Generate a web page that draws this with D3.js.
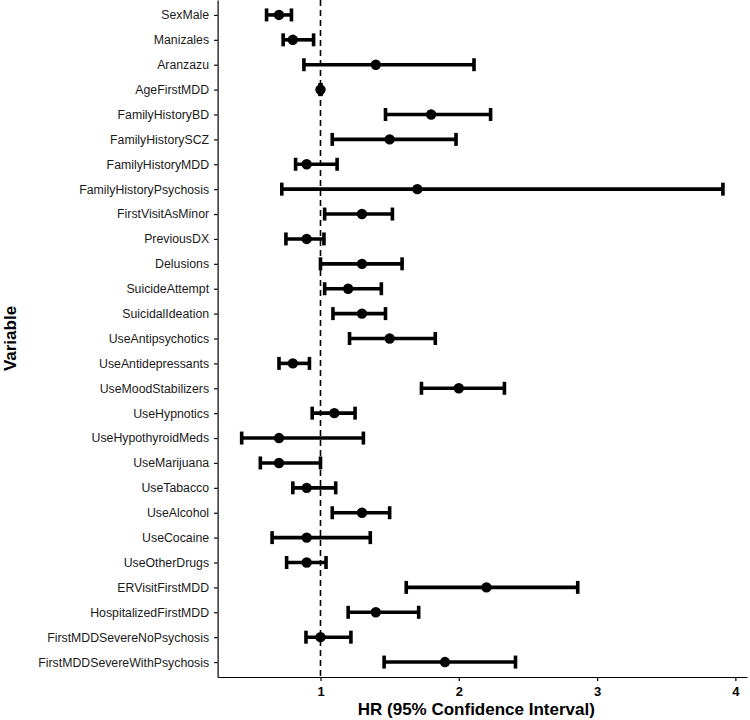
<!DOCTYPE html>
<html>
<head>
<meta charset="utf-8">
<script src="https://cdn.jsdelivr.net/npm/d3@7"></script>
<style>
  html, body { margin: 0; padding: 0; background: #fff; }
  svg { display: block; }
</style>
</head>
<body>
<svg id="chart" width="750" height="720"></svg>
<script>
const variables = ["SexMale","Manizales","Aranzazu","AgeFirstMDD","FamilyHistoryBD","FamilyHistorySCZ","FamilyHistoryMDD","FamilyHistoryPsychosis","FirstVisitAsMinor","PreviousDX","Delusions","SuicideAttempt","SuicidalIdeation","UseAntipsychotics","UseAntidepressants","UseMoodStabilizers","UseHypnotics","UseHypothyroidMeds","UseMarijuana","UseTabacco","UseAlcohol","UseCocaine","UseOtherDrugs","ERVisitFirstMDD","HospitalizedFirstMDD","FirstMDDSevereNoPsychosis","FirstMDDSevereWithPsychosis"];
const hr    = [0.70,0.80,1.40,1.00,1.80,1.50,0.90,1.70,1.30,0.90,1.30,1.20,1.30,1.50,0.80,2.00,1.10,0.70,0.70,0.90,1.30,0.90,0.90,2.20,1.40,1.00,1.90];
const lower = [0.61,0.73,0.88,0.996,1.47,1.085,0.82,0.72,1.03,0.75,1.00,1.03,1.09,1.21,0.70,1.73,0.94,0.43,0.565,0.80,1.085,0.65,0.755,1.62,1.20,0.895,1.46];
const upper = [0.79,0.95,2.11,1.004,2.23,1.98,1.12,3.91,1.52,1.025,1.59,1.44,1.47,1.83,0.92,2.33,1.25,1.31,1.00,1.11,1.50,1.36,1.04,2.86,1.71,1.22,2.41];
const xTicks = [1,2,3,4];
const refLine = 1;
const xTitle = "HR (95% Confidence Interval)";
const yTitle = "Variable";

const data = variables.map((v,i) => ({name: v, hr: hr[i], lo: lower[i], hi: upper[i]}));

const svg = d3.select("#chart");
const L = 217.6, R = 747, T = 0, B = 677;

const lo = 0.43, hi = d3.max(upper);
const pad = (hi - lo) * 0.05;
const x = d3.scaleLinear().domain([lo - pad, hi + pad]).range([L, R]);
const y = d3.scalePoint().domain(variables).range([T, B]).padding(0.6);

// reference line
svg.append("line")
  .attr("x1", x(refLine)).attr("x2", x(refLine))
  .attr("y1", T).attr("y2", B)
  .attr("stroke", "#000").attr("stroke-width", 1.6)
  .attr("stroke-dasharray", "6,4");

const g = svg.append("g");
const rows = g.selectAll("g.row").data(data).enter().append("g").attr("class","row");
const capH = 6.5, lw = 3.6;
rows.append("line")
  .attr("x1", d => x(d.lo)).attr("x2", d => x(d.hi))
  .attr("y1", d => y(d.name)).attr("y2", d => y(d.name))
  .attr("stroke", "#000").attr("stroke-width", lw);
rows.append("line")
  .attr("x1", d => x(d.lo)).attr("x2", d => x(d.lo))
  .attr("y1", d => y(d.name) - capH).attr("y2", d => y(d.name) + capH)
  .attr("stroke", "#000").attr("stroke-width", lw);
rows.append("line")
  .attr("x1", d => x(d.hi)).attr("x2", d => x(d.hi))
  .attr("y1", d => y(d.name) - capH).attr("y2", d => y(d.name) + capH)
  .attr("stroke", "#000").attr("stroke-width", lw);
rows.append("circle")
  .attr("cx", d => x(d.hr)).attr("cy", d => y(d.name))
  .attr("r", 5.2).attr("fill", "#000");

// axes
const xAxis = d3.axisBottom(x).tickValues(xTicks).tickFormat(d3.format("d")).tickSize(4).tickSizeOuter(0);
const gx = svg.append("g").attr("transform", `translate(0,${B})`).call(xAxis);
gx.select(".domain").attr("stroke", "#000").attr("stroke-width", 1.2);
gx.selectAll(".tick line").attr("stroke", "#000").attr("stroke-width", 1.2);
gx.selectAll(".tick text")
  .attr("font-family", "Liberation Sans, Arial, sans-serif")
  .attr("font-size", 13).attr("font-weight", "bold").attr("fill", "#000").attr("dy", "0.9em");

const yAxis = d3.axisLeft(y).tickSize(3.5).tickSizeOuter(0).tickPadding(5);
const gy = svg.append("g").attr("transform", `translate(${L},0)`).call(yAxis);
gy.select(".domain").attr("stroke", "#000").attr("stroke-width", 1.2);
gy.selectAll(".tick line").attr("stroke", "#000").attr("stroke-width", 1.2);
gy.selectAll(".tick text")
  .attr("font-family", "Liberation Sans, Arial, sans-serif")
  .attr("font-size", 12.3).attr("fill", "#1a1a1a");

// titles
svg.append("text")
  .attr("x", (L + R) / 2 - 6).attr("y", 715)
  .attr("text-anchor", "middle")
  .attr("font-family", "Liberation Sans, Arial, sans-serif")
  .attr("font-size", 17).attr("font-weight", "bold").attr("fill", "#000")
  .text(xTitle);
svg.append("text")
  .attr("transform", `translate(16,${(T + B) / 2}) rotate(-90)`)
  .attr("text-anchor", "middle")
  .attr("font-family", "Liberation Sans, Arial, sans-serif")
  .attr("font-size", 17).attr("font-weight", "bold").attr("fill", "#000")
  .text(yTitle);
</script>
</body>
</html>
